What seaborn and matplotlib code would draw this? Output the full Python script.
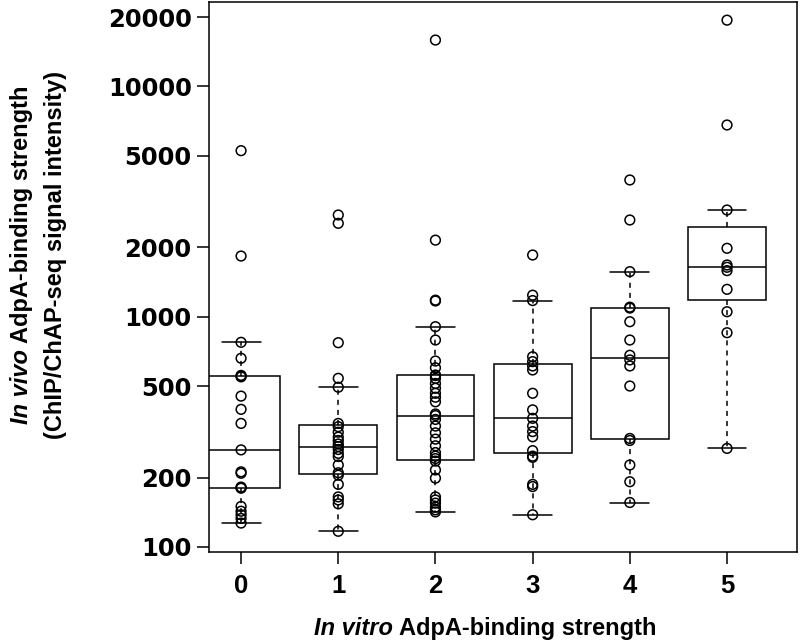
import numpy as np
import pandas as pd
import matplotlib
matplotlib.use('Agg')
import matplotlib.pyplot as plt
import seaborn as sns
from matplotlib.ticker import NullLocator

# in vitro binding classes and the in vivo signals
classes = ['0', '1', '2', '3', '4', '5']
sig0 = [127, 133, 138, 143, 150, 180, 181, 182, 209, 212, 264, 344, 396, 452,
        548, 552, 556, 660, 774, 1834, 5260]
sig1 = [117, 154, 160, 165, 187, 205, 210, 227, 247, 255, 265, 273, 280, 290,
        300, 315, 333, 344, 494, 540, 771, 2544, 2765]
sig2 = [142, 145, 149, 155, 160, 165, 199, 216, 236, 242, 248, 257, 275, 294,
        313, 335, 358, 372, 378, 427, 447, 465, 489, 513, 540, 555, 558, 600,
        642, 792, 905, 1170, 1180, 2150, 15900]
sig3 = [138, 183, 187, 245, 248, 262, 301, 317, 335, 362, 394, 465, 587, 611,
        638, 670, 1175, 1240, 1853]
sig4 = [156, 192, 227, 290, 296, 500, 611, 649, 680, 792, 951, 1090, 1100,
        1569, 2630, 3924]
sig5 = [268, 852, 1051, 1315, 1585, 1639, 1677, 1982, 2906, 6800, 19400]
yticks = [100, 200, 500, 1000, 2000, 5000, 10000, 20000]

groups = [sig0, sig1, sig2, sig3, sig4, sig5]
df = pd.DataFrame({
    'strength': np.concatenate([[c] * len(g) for c, g in zip(classes, groups)]),
    'signal': np.concatenate(groups).astype(float),
})

sns.set_style('ticks')
plt.rcParams['font.family'] = ['Liberation Sans', 'DejaVu Sans']
for key in ['text.color', 'axes.labelcolor', 'xtick.color', 'ytick.color',
            'axes.edgecolor']:
    plt.rcParams[key] = 'black'

W, H = 800, 641
fig = plt.figure(figsize=(W / 100, H / 100), dpi=100)
ax = fig.add_axes([209 / W, 1 - 552 / H, (797 - 209) / W, (552 - 2) / H])

lw = 1.1
sns.boxplot(data=df, x='strength', y='signal', order=classes, ax=ax,
            width=0.8, color='white', saturation=1, linecolor='black',
            linewidth=lw, showfliers=False, whis=1.5,
            whiskerprops=dict(linestyle=(0, (3.3, 3.3))))
sns.stripplot(data=df, x='strength', y='signal', order=classes, ax=ax,
              jitter=False, size=7, color='black', zorder=5)
for coll in ax.collections:
    coll.set_facecolor('none')
    coll.set_edgecolor('black')
    coll.set_linewidth(lw)

ax.set_yscale('log')
ax.set_ylim(95.1, 23260)
ax.set_xlim(-0.33, 5.72)
ax.set_yticks(yticks, labels=[str(v) for v in yticks])
ax.yaxis.set_minor_locator(NullLocator())
ax.set_xlabel('')
ax.set_ylabel('')

for lab in ax.get_yticklabels():
    lab.set_fontfamily('DejaVu Sans')
    lab.set_fontweight('bold')
    lab.set_fontsize(17.5)
for lab in ax.get_xticklabels():
    lab.set_fontweight('bold')
    lab.set_fontsize(18.5)

ax.tick_params(axis='both', direction='out', length=8.5, width=lw,
               color='black', labelcolor='black')
ax.tick_params(axis='y', pad=4)
ax.tick_params(axis='x', pad=7)
for s in ax.spines.values():
    s.set_visible(True)
    s.set_linewidth(lw)
    s.set_color('black')

# axis titles with an italic lead-in
fig.canvas.draw()
rend = fig.canvas.get_renderer()
fs = 17


def two_part(x_px, y_px, first, rest, rotation):
    kw = dict(fontsize=fs, fontweight='bold', rotation=rotation,
              rotation_mode='anchor', ha='left', va='baseline', color='black')
    t1 = fig.text(0, 0, first, fontstyle='italic', **kw)
    t2 = fig.text(0, 0, rest, **kw)
    e1 = t1.get_window_extent(rend)
    e2 = t2.get_window_extent(rend)
    gap = fs * 100 / 72 * 0.28
    if rotation == 0:
        x0 = x_px - (e1.width + gap + e2.width) / 2
        t1.set_position((x0 / W, 1 - y_px / H))
        t2.set_position(((x0 + e1.width + gap) / W, 1 - y_px / H))
    else:
        y0 = y_px + (e1.height + gap + e2.height) / 2
        t1.set_position((x_px / W, 1 - y0 / H))
        t2.set_position((x_px / W, 1 - (y0 - e1.height - gap) / H))


two_part(485, 635, 'In vitro', 'AdpA-binding strength', 0)
two_part(28, 255, 'In vivo', 'AdpA-binding strength', 90)
fig.text(62 / W, 1 - 255 / H, '(ChIP/ChAP-seq signal intensity)', fontsize=fs,
         fontweight='bold', rotation=90, rotation_mode='anchor',
         ha='center', va='baseline', color='black')

fig.savefig('out.png', dpi=100)
